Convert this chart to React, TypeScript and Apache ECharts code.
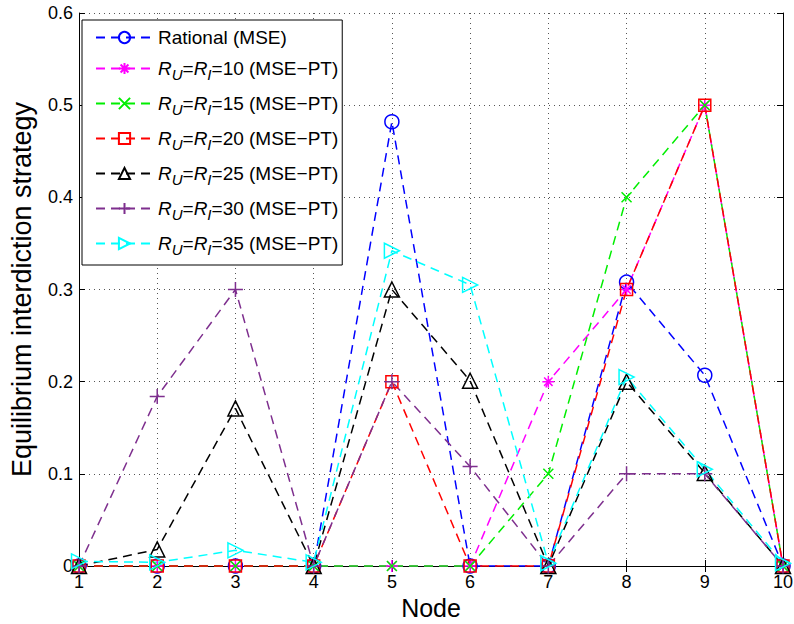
import React, { useEffect, useRef } from "react";
import * as echarts from "echarts";

const nodes = [1, 2, 3, 4, 5, 6, 7, 8, 9, 10];
const rational = [0, 0, 0, 0, 0.482, 0, 0, 0.308, 0.207, 0];
const r10 = [0, 0, 0, 0, 0, 0, 0.2, 0.3, 0.5, 0];
const r15 = [0, 0, 0, 0, 0, 0, 0.1, 0.4, 0.5, 0];
const r20 = [0, 0, 0, 0, 0.2, 0, 0, 0.3, 0.5, 0];
const r25 = [0, 0.018, 0.171, 0, 0.3, 0.201, 0, 0.2, 0.101, 0];
const r30 = [0, 0.184, 0.3, 0, 0.2, 0.108, 0, 0.1, 0.1, 0];
const r35 = [0.005, 0.004, 0.017, 0.004, 0.342, 0.305, 0.003, 0.205, 0.105, 0.003];
const yTicks = [0, 0.1, 0.2, 0.3, 0.4, 0.5, 0.6];

const FONT = "'Liberation Sans', Arial, Helvetica, sans-serif";

const seriesDefs = [
  { key: "Rational (MSE)", data: rational, color: "#0000ff", symbol: "circle", size: 14, legend: "{n|Rational (MSE)}" },
  { key: "R10", data: r10, color: "#ff00ff", symbol: "path://M0,-6L0,6M-6,0L6,0M-4.2,-4.2L4.2,4.2M-4.2,4.2L4.2,-4.2", size: 12, legend: "{i|R}{s|U}{n|=}{i|R}{s|I}{n|=10 (MSE\u2212PT)}" },
  { key: "R15", data: r15, color: "#00ee00", symbol: "path://M-5,-5L5,5M-5,5L5,-5", size: 10, legend: "{i|R}{s|U}{n|=}{i|R}{s|I}{n|=15 (MSE\u2212PT)}" },
  { key: "R20", data: r20, color: "#ff0000", symbol: "rect", size: 12, legend: "{i|R}{s|U}{n|=}{i|R}{s|I}{n|=20 (MSE\u2212PT)}" },
  { key: "R25", data: r25, color: "#000000", symbol: "path://M0,-6L6.5,5L-6.5,5Z", size: 15, legend: "{i|R}{s|U}{n|=}{i|R}{s|I}{n|=25 (MSE\u2212PT)}" },
  { key: "R30", data: r30, color: "#7e2f8e", symbol: "path://M0,-7L0,7M-7,0L7,0", size: 15, legend: "{i|R}{s|U}{n|=}{i|R}{s|I}{n|=30 (MSE\u2212PT)}" },
  { key: "R35", data: r35, color: "#00ffff", symbol: "path://M-5,-6.5L6,0L-5,6.5Z", size: 15, legend: "{i|R}{s|U}{n|=}{i|R}{s|I}{n|=35 (MSE\u2212PT)}" },
];

export default function App() {
  const ref = useRef<HTMLDivElement>(null);
  useEffect(() => {
    if (!ref.current) return;
    const chart = echarts.init(ref.current, null, { renderer: "svg" });
    const legendMap: Record<string, string> = {};
    seriesDefs.forEach((s) => (legendMap[s.key] = s.legend));
    chart.setOption({
      animation: false,
      backgroundColor: "#ffffff",
      textStyle: { fontFamily: FONT },
      grid: { left: 79, right: 11, top: 13, bottom: 58, outerBoundsMode: "none", containLabel: false },
      legend: {
        orient: "vertical",
        left: 82,
        top: 20,
        padding: [8, 4, 8, 13],
        itemGap: 12,
        itemWidth: 57,
        itemHeight: 14,
        backgroundColor: "#ffffff",
        borderColor: "#000000",
        borderWidth: 1,
        borderRadius: 0,
        data: seriesDefs.map((s) => s.key),
        formatter: (name: string) => legendMap[name],
        textStyle: {
          fontFamily: FONT,
          color: "#000",
          rich: {
            n: { fontSize: 19, fontFamily: FONT, color: "#000" },
            i: { fontSize: 19, fontFamily: FONT, fontStyle: "italic", color: "#000" },
            s: { fontSize: 15, fontFamily: FONT, fontStyle: "italic", color: "#000", padding: [12, 0, 0, 0] },
          },
        },
      },
      xAxis: [
        {
          type: "value",
          min: 1,
          max: 10,
          interval: 1,
          name: "Node",
          nameLocation: "middle",
          nameGap: 29,
          nameTextStyle: { fontSize: 25, color: "#000", fontFamily: FONT },
          axisLine: { lineStyle: { color: "#000", width: 1 } },
          axisTick: { inside: true, length: 6, lineStyle: { color: "#000" } },
          axisLabel: { fontSize: 18, color: "#000", margin: 7, fontFamily: FONT },
          splitLine: { show: true, lineStyle: { color: "#555", type: [1, 4], width: 1 } },
        },
        {
          type: "value",
          position: "top",
          min: 1,
          max: 10,
          interval: 1,
          axisLine: { show: true, lineStyle: { color: "#000", width: 1 } },
          axisTick: { inside: true, length: 6, lineStyle: { color: "#000" } },
          axisLabel: { show: false },
          splitLine: { show: false },
        },
      ],
      yAxis: [
        {
          type: "value",
          min: 0,
          max: 0.6,
          interval: 0.1,
          name: "Equilibrium interdiction strategy",
          nameLocation: "middle",
          nameGap: 44,
          nameTextStyle: { fontSize: 27, color: "#000", fontFamily: FONT },
          axisLine: { show: true, lineStyle: { color: "#000", width: 1 } },
          axisTick: { show: true, inside: true, length: 6, lineStyle: { color: "#000" } },
          axisLabel: {
            fontSize: 18,
            color: "#000",
            margin: 6,
            fontFamily: FONT,
            formatter: (v: number) => {
              const t = yTicks.find((y) => Math.abs(y - v) < 1e-9);
              return t === 0 ? "0" : (t ?? v).toFixed(1);
            },
          },
          splitLine: { show: true, lineStyle: { color: "#555", type: [1, 4], width: 1 } },
        },
        {
          type: "value",
          position: "right",
          min: 0,
          max: 0.6,
          interval: 0.1,
          axisLine: { show: true, lineStyle: { color: "#000", width: 1 } },
          axisTick: { show: true, inside: true, length: 6, lineStyle: { color: "#000" } },
          axisLabel: { show: false },
          splitLine: { show: false },
        },
      ],
      series: seriesDefs.map((s) => ({
        name: s.key,
        type: "line",
        xAxisIndex: 0,
        yAxisIndex: 0,
        clip: false,
        data: s.data.map((v, i) => [nodes[i], v]),
        symbol: s.symbol,
        symbolSize: s.size,
        showSymbol: true,
        lineStyle: { color: s.color, width: 1.5, type: [9, 6] },
        itemStyle: { color: "none", borderColor: s.color, borderWidth: 1.5 },
        emphasis: { disabled: true },
      })),
    });
    return () => chart.dispose();
  }, []);
  return (
    <div
      ref={ref}
      style={{ position: "fixed", left: 0, top: 0, width: 794, height: 624, background: "#fff" }}
    />
  );
}
